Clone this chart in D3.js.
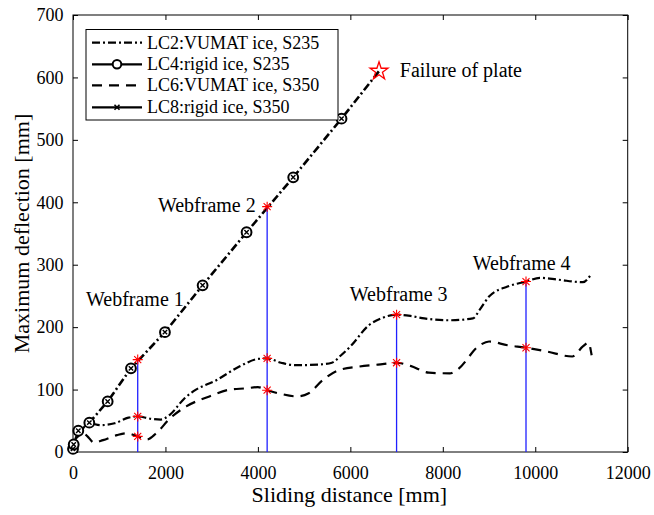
<!DOCTYPE html>
<html>
<head>
<meta charset="utf-8">
<script src="https://cdn.jsdelivr.net/npm/d3@7"></script>
<style>
  body { margin: 0; background: #fff; }
  svg text { font-family: "Liberation Serif", "Times New Roman", serif !important; fill: #000; }
</style>
</head>
<body>
<div id="vis"></div>
<script>
// data
const xTicks = [0, 2000, 4000, 6000, 8000, 10000, 12000];
const yTicks = [0, 100, 200, 300, 400, 500, 600, 700];

// LC4 / LC8 (rigid ice) - straight line up to failure
const lc4X = [0, 15, 115, 353, 750, 1254, 1989, 2804, 3755, 4764, 5809, 6620];
const lc4Y = [5, 12, 34, 47, 81, 134, 192, 267, 352, 440, 534, 610];
const lc8X = [0, 15, 115, 353, 750, 1254, 1989, 2804, 3755, 4764, 5809];
const lc8Y = [5, 12, 34, 47, 81, 134, 192, 267, 352, 440, 534];

// LC2 VUMAT ice S235
const lc2X = [0, 150, 350, 600, 900, 1200, 1400, 1700, 1900, 2100, 2400, 2600, 3100, 3600, 4000, 4200, 4500, 4800, 5300, 5600, 5800, 6000, 6400, 6700, 7000, 7300, 7600, 8150, 8650, 8800, 9000, 9400, 9800, 10100, 10500, 11030, 11210];
const lc2Y = [8, 30, 46, 43, 46, 55, 57, 53, 52, 60, 85, 97, 115, 137, 149, 150, 143, 139, 140, 143, 155, 169, 203, 215, 220, 218, 214, 211, 214, 228, 249, 265, 273, 279, 276, 272, 285];

// LC6 VUMAT ice S350
const lc6X = [0, 100, 220, 350, 450, 650, 950, 1160, 1400, 1600, 1800, 2100, 2450, 2950, 3400, 3750, 4000, 4200, 4500, 4850, 5100, 5400, 5750, 6200, 6600, 7000, 7300, 7700, 8150, 8300, 8800, 9000, 9400, 9800, 10250, 10800, 11030, 11150, 11220];
const lc6Y = [15, 25, 30, 22, 15, 19, 27, 30, 25, 20, 30, 54, 73, 89, 100, 102, 104, 99, 93, 89, 94, 115, 131, 137, 140, 143, 138, 127, 126, 131, 171, 177, 171, 167, 161, 153, 169, 175, 155];

// webframe positions and the deflections marked there
const webframeX = [1400, 4200, 7000, 9800];
const webframeTop = [148, 393, 220, 273];
const lc4MarkX = [1400, 4200];
const lc4MarkY = [148, 393];
const lc2MarkY = [57, 150, 220, 273];
const lc6MarkY = [25, 99, 143, 167];
const failureX = [6620];
const failureY = [610];

const labels = ["Webframe 1", "Webframe 2", "Webframe 3", "Webframe 4", "Failure of plate"];
const labelX = [281, 1838, 5989, 8649, 7070];
const labelY = [234, 385, 242, 292, 601];

const legendNames = ["LC2:VUMAT ice, S235", "LC4:rigid ice, S235", "LC6:VUMAT ice, S350", "LC8:rigid ice, S350"];

var width = 654, height = 515;
var FONT = "Liberation Serif, Times New Roman, serif";
var DASHDOT = "8,3,2,3";
var DASH = "10,7";

var svg = d3.select("#vis").append("svg")
  .attr("width", width)
  .attr("height", height)
  .attr("font-family", FONT);

var x = d3.scaleLinear().domain([0, 12000]).range([73, 627.7]);
var y = d3.scaleLinear().domain([0, 700]).range([452, 15]);

function pts(xs, ys) {
  return xs.map(function (d, i) { return [d, ys[i]]; });
}

var line = d3.line()
  .x(function (d) { return x(d[0]); })
  .y(function (d) { return y(d[1]); });
var smooth = d3.line()
  .x(function (d) { return x(d[0]); })
  .y(function (d) { return y(d[1]); })
  .curve(d3.curveMonotoneX);

// Axes (MATLAB style: ticks inside, box)
function styleAxis(g) {
  g.attr("font-family", FONT).attr("font-size", 18);
  g.select(".domain").remove();
  g.selectAll(".tick line").attr("stroke", "#000").attr("stroke-width", 1);
  g.selectAll(".tick text").attr("font-family", FONT).attr("font-size", 18);
}

svg.append("g")
  .attr("transform", "translate(0," + y(0) + ")")
  .call(d3.axisBottom(x).tickValues(xTicks).tickSizeInner(-5).tickSizeOuter(0).tickPadding(14).tickFormat(d3.format("d")))
  .call(styleAxis);
svg.append("g")
  .attr("transform", "translate(0," + y(700) + ")")
  .call(d3.axisTop(x).tickValues(xTicks).tickSizeInner(-5).tickSizeOuter(0).tickFormat(""))
  .call(styleAxis);
svg.append("g")
  .attr("transform", "translate(" + x(0) + ",0)")
  .call(d3.axisLeft(y).tickValues(yTicks).tickSizeInner(-5).tickSizeOuter(0).tickPadding(9.5))
  .call(styleAxis);
svg.append("g")
  .attr("transform", "translate(" + x(12000) + ",0)")
  .call(d3.axisRight(y).tickValues(yTicks).tickSizeInner(-5).tickSizeOuter(0).tickFormat(""))
  .call(styleAxis);

svg.append("rect")
  .attr("x", x(0)).attr("y", y(700))
  .attr("width", x(12000) - x(0)).attr("height", y(0) - y(700))
  .attr("fill", "none").attr("stroke", "#000").attr("stroke-width", 1);

// axis titles
svg.append("text")
  .attr("x", (x(0) + x(12000)) / 2 - 1)
  .attr("y", 502)
  .attr("text-anchor", "middle")
  .attr("font-size", 22)
  .text("Sliding distance [mm]");
svg.append("text")
  .attr("transform", "translate(29," + (y(0) + y(700)) / 2 + ") rotate(-90)")
  .attr("text-anchor", "middle")
  .attr("font-size", 22)
  .text("Maximum deflection [mm]");

// curves
svg.append("path").datum(pts(lc6X, lc6Y))
  .attr("d", smooth).attr("fill", "none")
  .attr("stroke", "#000").attr("stroke-width", 2.2).attr("stroke-dasharray", DASH);
svg.append("path").datum(pts(lc2X, lc2Y))
  .attr("d", smooth).attr("fill", "none")
  .attr("stroke", "#000").attr("stroke-width", 2.2).attr("stroke-dasharray", DASHDOT);
svg.append("path").datum(pts(lc4X, lc4Y))
  .attr("d", line).attr("fill", "none")
  .attr("stroke", "#000").attr("stroke-width", 2.6).attr("stroke-dasharray", DASHDOT);

// circle markers (LC4) and x markers (LC8)
svg.selectAll(".lc4").data(pts(lc4X.slice(0, -1), lc4Y.slice(0, -1))).enter()
  .append("circle").attr("class", "lc4")
  .attr("cx", function (d) { return x(d[0]); })
  .attr("cy", function (d) { return y(d[1]); })
  .attr("r", 4.9).attr("fill", "#fff")
  .attr("stroke", "#000").attr("stroke-width", 2);
var xMark = function (s) {
  return "M" + (-s) + "," + (-s) + "L" + s + "," + s + "M" + (-s) + "," + s + "L" + s + "," + (-s);
};
svg.selectAll(".lc8").data(pts(lc8X, lc8Y)).enter()
  .append("path").attr("class", "lc8")
  .attr("transform", function (d) { return "translate(" + x(d[0]) + "," + y(d[1]) + ")"; })
  .attr("d", xMark(2.2))
  .attr("stroke", "#000").attr("stroke-width", 1.4);

// webframe lines
svg.selectAll(".wf").data(webframeX).enter()
  .append("line").attr("class", "wf")
  .attr("x1", function (d) { return x(d); })
  .attr("x2", function (d) { return x(d); })
  .attr("y1", y(0))
  .attr("y2", function (d, i) { return y(webframeTop[i]); })
  .attr("stroke", "#2020ff").attr("stroke-width", 1.3);

// red asterisks
var asterisk = function (s) {
  var d = s * 0.7071;
  return "M0," + (-s) + "L0," + s + "M" + (-s) + ",0L" + s + ",0" +
    "M" + (-d) + "," + (-d) + "L" + d + "," + d + "M" + (-d) + "," + d + "L" + d + "," + (-d);
};
var marks = pts(lc4MarkX, lc4MarkY)
  .concat(pts(webframeX, lc2MarkY))
  .concat(pts(webframeX, lc6MarkY));
svg.selectAll(".ast").data(marks).enter()
  .append("path").attr("class", "ast")
  .attr("transform", function (d) { return "translate(" + x(d[0]) + "," + y(d[1]) + ")"; })
  .attr("d", asterisk(5))
  .attr("stroke", "#ff0000").attr("stroke-width", 1.1).attr("fill", "none");

// failure pentagram
var star = d3.symbol().type(d3.symbolStar).size(100);
svg.selectAll(".fail").data(pts(failureX, failureY)).enter()
  .append("path").attr("class", "fail")
  .attr("transform", function (d) { return "translate(" + x(d[0]) + "," + y(d[1]) + ")"; })
  .attr("d", star)
  .attr("fill", "none").attr("stroke", "#ff0000").attr("stroke-width", 1.3);

// annotations
svg.selectAll(".lbl").data(labels).enter()
  .append("text").attr("class", "lbl")
  .attr("x", function (d, i) { return x(labelX[i]); })
  .attr("y", function (d, i) { return y(labelY[i]); })
  .attr("font-size", 20)
  .text(function (d) { return d; });

// legend
var leg = svg.append("g");
leg.append("rect")
  .attr("x", 86).attr("y", 29.5).attr("width", 252).attr("height", 90.5)
  .attr("fill", "#fff").attr("stroke", "#000").attr("stroke-width", 1);
var rowY = [42.7, 64.3, 85.3, 107.3];
var rowDash = [DASHDOT, null, DASH, null];
legendNames.forEach(function (name, i) {
  leg.append("line")
    .attr("x1", 92).attr("x2", 142)
    .attr("y1", rowY[i]).attr("y2", rowY[i])
    .attr("stroke", "#000").attr("stroke-width", 2.2)
    .attr("stroke-dasharray", rowDash[i]);
  if (i == 1) {
    leg.append("circle").attr("cx", 117).attr("cy", rowY[i]).attr("r", 4.3)
      .attr("fill", "#fff").attr("stroke", "#000").attr("stroke-width", 2);
  }
  if (i == 3) {
    leg.append("path").attr("transform", "translate(117," + rowY[i] + ")")
      .attr("d", xMark(2.5)).attr("stroke", "#000").attr("stroke-width", 1.6);
  }
  leg.append("text")
    .attr("x", 147).attr("y", rowY[i] + 6)
    .attr("font-size", 18)
    .text(name);
});
</script>
</body>
</html>
